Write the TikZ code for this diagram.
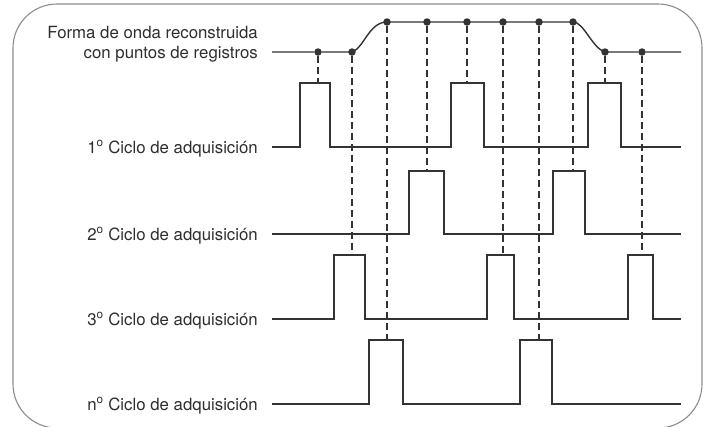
\documentclass[tikz,border=0pt]{standalone}
\usepackage{fontspec}
\setmainfont{TeX Gyre Heros}
\definecolor{linea}{HTML}{333333}
\definecolor{marco}{HTML}{8C8C8C}
\definecolor{texto}{HTML}{2E2E2E}
\newcommand{\ordo}{\textsuperscript{o}}
\begin{document}
\begin{tikzpicture}[x=1pt, y=-1pt]
  \useasboundingbox (0, 0) rectangle (706, 426);  % Rand wie im Bild.
  \tikzstyle{reg}=[circle, fill=linea, minimum size=7.5pt, inner sep=0pt]
  \tikzstyle{senal}=[draw=linea, line width=1.4pt]
  \tikzstyle{muestra}=[draw=linea, line width=1.2pt, dash pattern=on 7pt off 4pt]
  \tikzstyle{etiqueta}=[anchor=base east, text=texto, inner sep=0pt,
                        font=\fontsize{16.8}{20}\selectfont]

  \draw [marco, line width=1.1pt, rounded corners=44pt] (13, 4) rectangle (702, 428);

  \node[etiqueta] (forma)  at (258, 38.5) {Forma de onda reconstruida};
  \node[etiqueta] (puntos) at (258, 58)   {con puntos de registros};
  \node[etiqueta] (c1) at (258, 153) {1\ordo{} Ciclo de adquisición};
  \node[etiqueta] (c2) at (258, 240) {2\ordo{} Ciclo de adquisición};
  \node[etiqueta] (c3) at (258, 325) {3\ordo{} Ciclo de adquisición};
  \node[etiqueta] (cn) at (258, 410) {n\ordo{} Ciclo de adquisición};

  \node[reg] (d1)  at (318, 52) {};
  \node[reg] (d2)  at (352, 52) {};
  \node[reg] (d3)  at (387, 22) {};
  \node[reg] (d4)  at (427, 22) {};
  \node[reg] (d5)  at (467, 22) {};
  \node[reg] (d6)  at (503, 22) {};
  \node[reg] (d7)  at (539, 22) {};
  \node[reg] (d8)  at (573, 22) {};
  \node[reg] (d9)  at (605, 52) {};
  \node[reg] (d10) at (642, 52) {};

  \coordinate (t1)  at (318, 83);
  \coordinate (t2)  at (352, 255);
  \coordinate (t3)  at (387, 340);
  \coordinate (t4)  at (427, 171);
  \coordinate (t5)  at (467, 83);
  \coordinate (t6)  at (503, 255);
  \coordinate (t7)  at (539, 340);
  \coordinate (t8)  at (573, 171);
  \coordinate (t9)  at (605, 83);
  \coordinate (t10) at (642, 255);

  % reconstruierte Form
  \draw[senal] (272, 52) -- (d1) -- (d2.center)
    .. controls (364, 48) and (369, 22) .. (d3.center) -- (d8.center)
    .. controls (584, 22) and (592, 48) .. (d9.center) -- (d10) -- (681, 52);

  % Erfassungszyklen
  \draw[senal] (272, 147) -- (300, 147) -- (300, 83) -- (330, 83) -- (330, 147)
    -- (451, 147) -- (451, 83) -- (484, 83) -- (484, 147)
    -- (588, 147) -- (588, 83) -- (621, 83) -- (621, 147) -- (681, 147);
  \draw[senal] (272, 234) -- (409, 234) -- (409, 171) -- (444, 171) -- (444, 234)
    -- (553, 234) -- (553, 171) -- (585, 171) -- (585, 234) -- (681, 234);
  \draw[senal] (272, 319) -- (334, 319) -- (334, 255) -- (365, 255) -- (365, 319)
    -- (487, 319) -- (487, 255) -- (514, 255) -- (514, 319)
    -- (628, 319) -- (628, 255) -- (653, 255) -- (653, 319) -- (681, 319);
  \draw[senal] (272, 404) -- (369, 404) -- (369, 340) -- (403, 340) -- (403, 404)
    -- (520, 404) -- (520, 340) -- (552, 340) -- (552, 404) -- (681, 404);

  \path[muestra] (d1) edge (t1);
  \path[muestra] (d2) edge (t2);
  \path[muestra] (d3) edge (t3);
  \path[muestra] (d4) edge (t4);
  \path[muestra] (d5) edge (t5);
  \path[muestra] (d6) edge (t6);
  \path[muestra] (d7) edge (t7);
  \path[muestra] (d8) edge (t8);
  \path[muestra] (d9) edge (t9);
  \path[muestra] (d10) edge (t10);
\end{tikzpicture}
\end{document}
